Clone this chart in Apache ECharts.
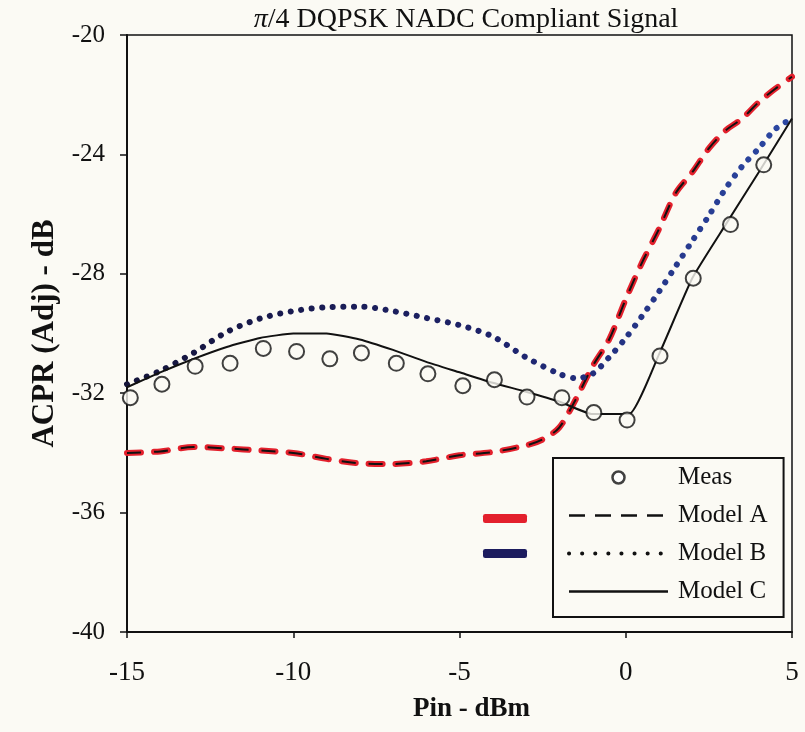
<!DOCTYPE html>
<html><head><meta charset="utf-8">
<script src="https://cdn.jsdelivr.net/npm/echarts@6/dist/echarts.min.js"></script>
<style>html,body{margin:0;padding:0;background:#fbfaf4}#c{width:805px;height:732px}</style>
</head><body><div id="c"></div><script>
// ---- data ----
const xTicks = [-15, -10, -5, 0, 5];
const yTicks = [-40, -36, -32, -28, -24, -20];

const measX = [-14.9,-13.95,-12.95,-11.9,-10.9,-9.9,-8.9,-7.95,-6.9,-5.95,-4.9,-3.95,-2.97,-1.92,-0.96,0.04,1.03,2.03,3.15,4.15];
const measY = [-32.15,-31.7,-31.1,-31.0,-30.5,-30.6,-30.85,-30.65,-31.0,-31.35,-31.75,-31.55,-32.13,-32.15,-32.65,-32.9,-30.75,-28.15,-26.35,-24.35];

const modelAX = [-15,-14,-13,-12,-11,-10,-9,-8,-7,-6,-5,-4,-3,-2.5,-2,-1.5,-1,-0.5,0,0.5,1,1.5,2,2.5,3,3.5,4,4.5,5];
const modelAY = [-34.0,-33.95,-33.8,-33.85,-33.92,-34.0,-34.2,-34.35,-34.37,-34.28,-34.08,-33.97,-33.75,-33.55,-33.15,-32.2,-31.1,-30.2,-28.85,-27.6,-26.5,-25.3,-24.6,-23.8,-23.2,-22.8,-22.25,-21.8,-21.4];

const modelBX = [-15,-14,-13,-12,-11,-10,-9,-8,-7,-6,-5,-4,-3,-2,-1.5,-1,-0.5,0,0.5,1,1.5,2,2.5,3,3.5,4,4.5,5];
const modelBY = [-31.7,-31.25,-30.65,-29.95,-29.5,-29.25,-29.12,-29.1,-29.25,-29.48,-29.72,-30.1,-30.8,-31.35,-31.5,-31.35,-30.8,-30.15,-29.4,-28.6,-27.75,-26.9,-26.05,-25.15,-24.4,-23.8,-23.15,-22.8];

const modelCX = [-15,-14,-13,-12,-11,-10,-9,-8,-7,-6,-5,-4,-3,-2,-1,0.1,1,2,3,4,5];
const modelCY = [-31.8,-31.3,-30.85,-30.45,-30.15,-30.0,-30.0,-30.2,-30.55,-30.95,-31.3,-31.65,-31.95,-32.28,-32.7,-32.7,-30.7,-28.15,-26.36,-24.6,-22.8];

const seriesNames = ['Meas', 'Model A', 'Model B', 'Model C'];
const titleText = '{pi|π}/4 DQPSK NADC Compliant Signal';
const xName = 'Pin - dBm';
const yName = 'ACPR (Adj) - dB';

// ---- build ----
const zip = (xs, ys) => xs.map((x, i) => [x, ys[i]]);
const FONT = "'Liberation Serif', 'Times New Roman', serif";
const RED = '#e3202c';
const NAVY = '#1c1c5e';
const INK = '#111';

const chart = echarts.init(document.getElementById('c'), null, {renderer: 'canvas'});
chart.setOption({
  backgroundColor: '#fbfaf4',
  animation: false,
  title: {
    text: titleText,
    left: 466, top: 6, textAlign: 'center', padding: 0,
    textStyle: {
      fontFamily: FONT, fontSize: 28, fontWeight: 'normal', color: INK,
      rich: {pi: {fontFamily: FONT, fontSize: 28, fontStyle: 'italic', color: INK}}
    }
  },
  grid: {left: 127, right: 13, top: 35, bottom: 100, show: true, borderColor: INK, borderWidth: 1.5, backgroundColor: 'transparent'},
  xAxis: {
    type: 'value', min: xTicks[0], max: xTicks[xTicks.length - 1], interval: 5,
    name: xName, nameLocation: 'middle', nameGap: 64,
    nameTextStyle: {fontFamily: FONT, fontSize: 27, fontWeight: 'bold', color: INK, padding: [0, 0, 0, 24]},
    axisLine: {onZero: false, lineStyle: {color: INK, width: 2}},
    axisTick: {length: 6, lineStyle: {color: INK, width: 1.5}},
    axisLabel: {margin: 27, fontFamily: FONT, fontSize: 27, color: INK},
    splitLine: {show: false}
  },
  yAxis: {
    type: 'value', min: yTicks[0], max: yTicks[yTicks.length - 1], interval: 4,
    name: yName, nameLocation: 'middle', nameGap: 66, nameRotate: 90,
    nameTextStyle: {fontFamily: FONT, fontSize: 31, fontWeight: 'bold', color: INK},
    axisLine: {onZero: false, lineStyle: {color: INK, width: 2}},
    axisTick: {length: 7, lineStyle: {color: INK, width: 1.5}},
    axisLabel: {margin: 22, fontFamily: FONT, fontSize: 25, color: INK},
    splitLine: {show: false}
  },
  legend: [
    {
      orient: 'vertical', left: 553, top: 458,
      itemWidth: 99, itemHeight: 12, itemGap: 13,
      padding: [7, 16, 13, 14],
      borderColor: INK, borderWidth: 2, backgroundColor: '#fbfaf4',
      textStyle: {fontFamily: FONT, fontSize: 25, color: INK, padding: [0, 0, 0, 5]},
      data: [
        {name: seriesNames[0], icon: 'circle', itemStyle: {color: '#fff', borderColor: INK, borderWidth: 2.5}},
        {name: seriesNames[1], itemStyle: {opacity: 0}, lineStyle: {color: INK, width: 2.5, type: [16, 10]}},
        {name: seriesNames[2], itemStyle: {opacity: 0}, lineStyle: {color: INK, width: 4, type: [0.1, 13], cap: 'round'}},
        {name: seriesNames[3], itemStyle: {opacity: 0}, lineStyle: {color: INK, width: 2.5}}
      ]
    },
    {
      orient: 'vertical', left: 483, top: 514, padding: 0,
      itemWidth: 44, itemHeight: 9, itemGap: 26,
      formatter: function () { return ''; },
      textStyle: {color: 'rgba(0,0,0,0)', fontSize: 1},
      data: [
        {name: 'Model A colour', icon: 'roundRect', itemStyle: {color: RED}},
        {name: seriesNames[2], icon: 'roundRect', itemStyle: {color: NAVY}}
      ]
    }
  ],
  series: [
    {
      name: 'Model A colour', type: 'line', data: zip(modelAX, modelAY), smooth: 0.3,
      symbol: 'none', color: RED, z: 2,
      lineStyle: {color: RED, width: 6, type: [14, 13], cap: 'round'}
    },
    {
      name: seriesNames[1], type: 'line', data: zip(modelAX, modelAY), smooth: 0.3,
      symbol: 'none', color: INK, z: 3,
      lineStyle: {color: INK, width: 2, type: [14, 13]}
    },
    {
      name: seriesNames[2], type: 'line', data: zip(modelBX, modelBY), smooth: 0.3,
      symbol: 'none', z: 3,
      color: new echarts.graphic.LinearGradient(0, 0, 1, 0, [
        {offset: 0, color: '#15153a'}, {offset: 0.55, color: '#1d226a'}, {offset: 1, color: '#2c48a4'}
      ]),
      lineStyle: {width: 6, type: [0.1, 10.5], cap: 'round'}
    },
    {
      name: seriesNames[3], type: 'line', data: zip(modelCX, modelCY), smooth: 0.15,
      symbol: 'none', color: INK, z: 4,
      lineStyle: {color: INK, width: 2}
    },
    {
      name: seriesNames[0], type: 'scatter', data: zip(measX, measY),
      symbol: 'circle', symbolSize: 15, z: 5,
      itemStyle: {color: '#fbfaf4', borderColor: INK, borderWidth: 2}
    }
  ]
});
</script></body></html>
